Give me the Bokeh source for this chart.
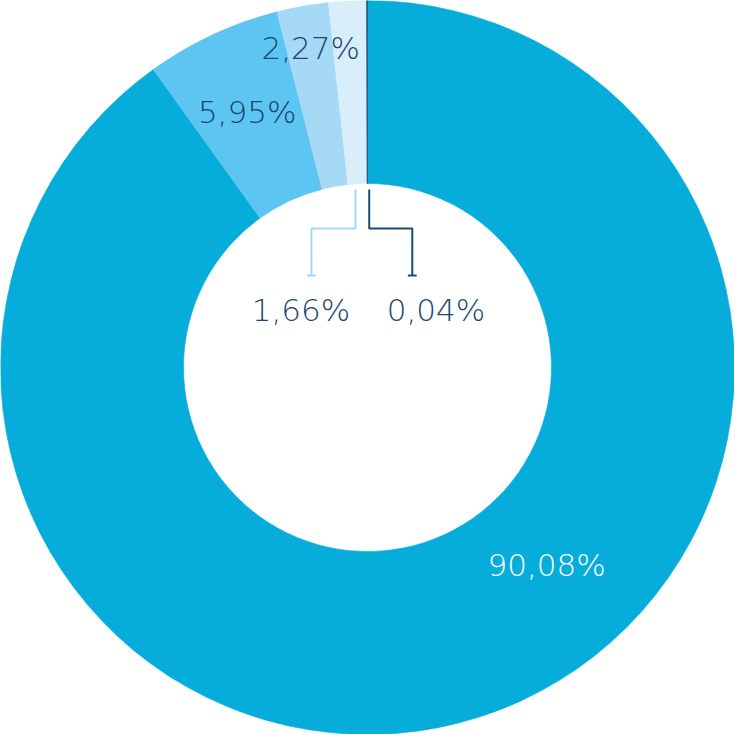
import numpy as np
from bokeh.plotting import figure
from bokeh.models import Range1d, ColumnDataSource
from bokeh.core.properties import value
from bokeh.embed import file_html
from bokeh.resources import INLINE

# ---- data ----
shares = [90.08, 5.95, 2.27, 1.66, 0.04]
labels = ["90,08%", "5,95%", "2,27%", "1,66%", "0,04%"]
colors = ["#07ADDA", "#5DC5F1", "#A5D9F5", "#D8EEFB", "#1B4B74"]

# ---- layout (reference-pixel units, centre of donut at 0,0, 750 px across) ----
W = 734
S = 375.0
R_OUT, R_IN = 375, 188
label_xy = [(183, -202), (-123, 261), (-58, 326), (-68, 59), (70, 59)]
label_col = ["#FFFFFF", "#1A4670", "#1A4670", "#1A4670", "#1A4670"]

vals = np.array(shares, dtype=float)
cum = np.concatenate([[0], np.cumsum(vals)]) / vals.sum()
start = np.pi / 2 - cum[1:] * 2 * np.pi
end = np.pi / 2 - cum[:-1] * 2 * np.pi
mid = (start + end) / 2

p = figure(width=W, height=W, output_backend="svg", toolbar_location=None,
           x_range=Range1d(-S, S), y_range=Range1d(-S, S),
           min_border=0)
p.axis.visible = False
p.grid.visible = False
p.outline_line_color = None
p.background_fill_color = "white"

src = ColumnDataSource(dict(start=start, end=end, color=colors))
p.annular_wedge(x=0, y=0, inner_radius=R_IN, outer_radius=R_OUT,
                start_angle="start", end_angle="end", direction="anticlock",
                fill_color="color", line_color="color", line_width=0.6, source=src)

# leader lines for the two smallest slices
leader_col = ["#A5D9F5", "#1B4B74"]
for k, (i, dx) in enumerate([(3, -45), (4, 44)]):
    x0 = R_IN * np.cos(mid[i]) - (2 if i == 3 else -2)
    y0 = R_IN - 6
    y1 = 375 - 233
    x2 = x0 + dx
    y2 = 375 - 281
    p.line([x0, x0, x2, x2], [y0, y1, y1, y2], line_color=leader_col[k], line_width=2)
    p.line([x2 - 4.5, x2 + 4.5], [y2, y2], line_color=leader_col[k], line_width=2)

lx = [xy[0] for xy in label_xy]
ly = [xy[1] for xy in label_xy]
p.text(x=lx, y=ly, text=labels, text_color=label_col,
       text_font=value("DejaVu Sans Light, DejaVu Sans"),
       text_font_size="31px", text_align="center", text_baseline="middle")

open("out.html", "w").write(file_html(p, INLINE))
